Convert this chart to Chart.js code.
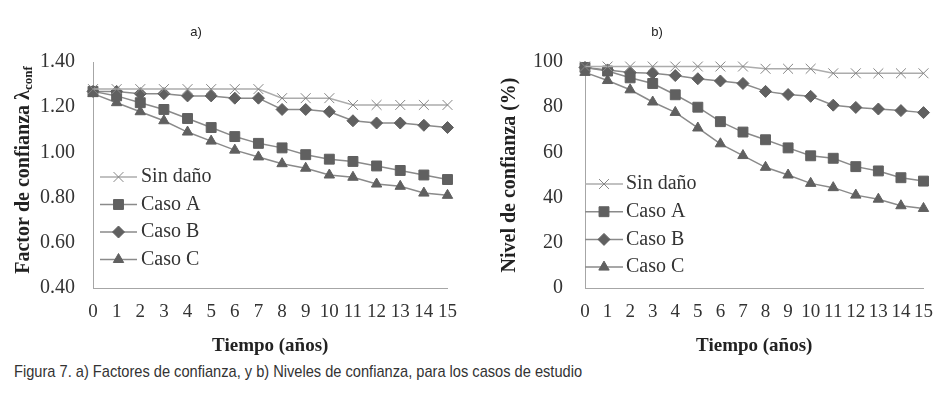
<!DOCTYPE html>
<html>
<head>
<meta charset="utf-8">
<script src="https://cdn.jsdelivr.net/npm/chart.js@4.4.0/dist/chart.umd.min.js"></script>
<style>
  body { margin: 0; background: #fff; }
  #wrap { position: relative; width: 946px; height: 393px; overflow: hidden; }
  .box { position: absolute; top: 0; width: 470px; height: 360px; }
  #caption { position: absolute; left: 14px; top: 362px; font: 17px "Liberation Sans", Arial, sans-serif; color: #333; white-space: nowrap; transform: scaleX(0.86); transform-origin: left top; }
</style>
</head>
<body>
<div id="wrap">
  <div class="box" style="left:0"><canvas id="chartA"></canvas></div>
  <div class="box" style="left:476px"><canvas id="chartB"></canvas></div>
  <div id="caption">Figura 7. a) Factores de confianza, y b) Niveles de confianza, para los casos de estudio</div>
</div>
<script>
// x axis: time in years
const years = ['0', '1', '2', '3', '4', '5', '6', '7', '8', '9', '10', '11', '12', '13', '14', '15'];
const seriesNames = ['Sin daño', 'Caso A', 'Caso B', 'Caso C'];

// a) confidence factor
const sinDanoFactor = [1.28, 1.28, 1.28, 1.28, 1.28, 1.28, 1.28, 1.28, 1.24, 1.24, 1.24, 1.21, 1.21, 1.21, 1.21, 1.21];
const casoAFactor = [1.27, 1.25, 1.22, 1.19, 1.15, 1.11, 1.07, 1.04, 1.02, 0.99, 0.97, 0.96, 0.94, 0.92, 0.90, 0.88];
const casoBFactor = [1.27, 1.27, 1.26, 1.26, 1.25, 1.25, 1.24, 1.24, 1.19, 1.19, 1.18, 1.14, 1.13, 1.13, 1.12, 1.11];
const casoCFactor = [1.26, 1.22, 1.18, 1.14, 1.09, 1.05, 1.01, 0.98, 0.95, 0.93, 0.90, 0.89, 0.86, 0.85, 0.82, 0.81];
const factorTicks = [0.4, 0.6, 0.8, 1.0, 1.2, 1.4];

// b) confidence level (%)
const sinDanoNivel = [98, 98, 98, 98, 98, 98, 98, 98, 97, 97, 97, 95, 95, 95, 95, 95];
const casoANivel = [97.6, 96, 93, 90.5, 85.5, 80, 73.6, 69, 65.6, 62, 58.5, 57.4, 53.7, 51.8, 48.8, 47.3];
const casoBNivel = [97.6, 96.5, 95.4, 95, 94, 92.6, 91.6, 90.5, 87, 85.6, 84.8, 80.9, 79.9, 79.2, 78.5, 77.6];
const casoCNivel = [95.4, 91.8, 87.7, 82.3, 77.7, 70.8, 63.8, 58.6, 53.4, 50, 46.3, 44.4, 41.1, 39.3, 36.4, 35.2];
const nivelTicks = [0, 20, 40, 60, 80, 100];

// look of each series
const lineColors = ['#acacac', '#8a8a8a', '#8a8a8a', '#8a8a8a'];
const markerColors = ['#858585', '#606060', '#606060', '#606060'];
const markerStyles = ['crossRot', 'rect', 'rectRot', 'triangle'];
const markerSizes = [7, 7, 6, 6];

const serif = '"Liberation Serif", "Times New Roman", serif';
const textColor = '#333';

function makeDatasets(values) {
  return seriesNames.map((name, i) => ({
    label: name,
    data: values[i],
    borderColor: lineColors[i],
    borderWidth: 1.5,
    pointStyle: markerStyles[i],
    pointRadius: markerSizes[i],
    pointHoverRadius: markerSizes[i],
    pointBackgroundColor: markerColors[i],
    pointBorderColor: markerColors[i],
    pointBorderWidth: 1,
    tension: 0,
    clip: false
  }));
}

// legend drawn inside the plot, line sample + marker, plus panel letter
const insideLegend = {
  id: 'insideLegend',
  afterDatasetsDraw(chart, args, opts) {
    const ctx = chart.ctx;
    ctx.save();
    chart.data.datasets.forEach((ds, i) => {
      const y = opts.y0 + i * opts.dy;
      ctx.strokeStyle = ds.borderColor;
      ctx.lineWidth = ds.borderWidth;
      ctx.beginPath();
      ctx.moveTo(opts.x0, y);
      ctx.lineTo(opts.x1, y);
      ctx.stroke();
      ctx.fillStyle = ds.pointBackgroundColor;
      ctx.strokeStyle = ds.pointBorderColor;
      ctx.lineWidth = ds.pointBorderWidth;
      Chart.helpers.drawPoint(ctx, {
        pointStyle: ds.pointStyle, radius: ds.pointRadius, rotation: 0, borderWidth: ds.pointBorderWidth
      }, (opts.x0 + opts.x1) / 2, y);
      ctx.fillStyle = textColor;
      ctx.font = '20px ' + serif;
      ctx.textAlign = 'left';
      ctx.textBaseline = 'middle';
      ctx.fillText(ds.label, opts.textX, y);
    });
    ctx.fillStyle = '#222';
    ctx.font = '13px "Liberation Sans", Arial, sans-serif';
    ctx.textAlign = 'center';
    ctx.textBaseline = 'middle';
    ctx.fillText(opts.letter, opts.letterX, opts.letterY);
    ctx.restore();
  }
};

// y title with subscript for panel a
const subTitle = {
  id: 'subTitle',
  afterDraw(chart, args, opts) {
    if (!opts.main) return;
    const ctx = chart.ctx;
    ctx.save();
    ctx.translate(opts.x, opts.y);
    ctx.rotate(-Math.PI / 2);
    ctx.fillStyle = '#222';
    ctx.textBaseline = 'middle';
    ctx.textAlign = 'left';
    ctx.font = 'bold 20px ' + serif;
    const w1 = ctx.measureText(opts.main).width;
    ctx.font = 'bold 13px ' + serif;
    const w2 = ctx.measureText(opts.sub).width;
    const start = -(w1 + w2) / 2;
    ctx.font = 'bold 20px ' + serif;
    ctx.fillText(opts.main, start, 0);
    ctx.font = 'bold 13px ' + serif;
    ctx.fillText(opts.sub, start + w1, 5);
    ctx.restore();
  }
};

function makeChart(id, values, yCfg, legendCfg, titleCfg) {
  return new Chart(document.getElementById(id), {
    type: 'line',
    data: { labels: years, datasets: makeDatasets(values) },
    plugins: [insideLegend, subTitle],
    options: {
      responsive: true,
      maintainAspectRatio: false,
      animation: false,
      layout: { padding: { top: 62, right: yCfg.padRight, left: 0, bottom: 0 } },
      plugins: {
        legend: { display: false },
        tooltip: { enabled: false },
        insideLegend: legendCfg,
        subTitle: titleCfg
      },
      scales: {
        x: {
          type: 'category',
          offset: false,
          grid: { display: false, drawTicks: false },
          border: { display: true, color: '#a6a6a6', width: 1 },
          ticks: { autoSkip: false, maxRotation: 0, minRotation: 0, padding: 13, color: textColor, font: { family: serif, size: 19 } },
          title: { display: true, text: 'Tiempo (años)', color: '#222', font: { family: serif, size: 19, weight: 'bold' }, padding: { top: 4, bottom: 3 } },
          afterFit(scale) { scale.height = 72; }
        },
        y: {
          min: yCfg.min,
          max: yCfg.max,
          grid: { display: false, drawTicks: false },
          border: { display: true, color: '#a6a6a6', width: 1 },
          afterBuildTicks(scale) { scale.ticks = yCfg.ticks.map(v => ({ value: v })); },
          ticks: {
            padding: yCfg.tickPad,
            color: textColor,
            font: { family: serif, size: 20 },
            callback: yCfg.format
          },
          title: yCfg.title,
          afterFit(scale) { scale.width = yCfg.width; }
        }
      }
    }
  });
}

makeChart('chartA', [sinDanoFactor, casoAFactor, casoBFactor, casoCFactor],
  {
    min: 0.4, max: 1.4, ticks: factorTicks, tickPad: 18, width: 93, padRight: 22,
    format: v => Number(v).toFixed(2),
    title: { display: false }
  },
  { x0: 100, x1: 137, textX: 141, y0: 177, dy: 27.5, letter: 'a)', letterX: 196, letterY: 32 },
  { main: 'Factor de confianza λ', sub: 'conf', x: 24, y: 170 }
);

makeChart('chartB', [sinDanoNivel, casoANivel, casoBNivel, casoCNivel],
  {
    min: 0, max: 100, ticks: nivelTicks, tickPad: 22, width: 109, padRight: 15,
    format: v => String(v),
    title: { display: true, text: 'Nivel de confianza (%)', color: '#222', font: { family: serif, size: 20, weight: 'bold' }, padding: { top: 22, bottom: 0 } }
  },
  { x0: 109, x1: 147, textX: 150, y0: 184, dy: 27.7, letter: 'b)', letterX: 181, letterY: 32 },
  {}
);
</script>
</body>
</html>
